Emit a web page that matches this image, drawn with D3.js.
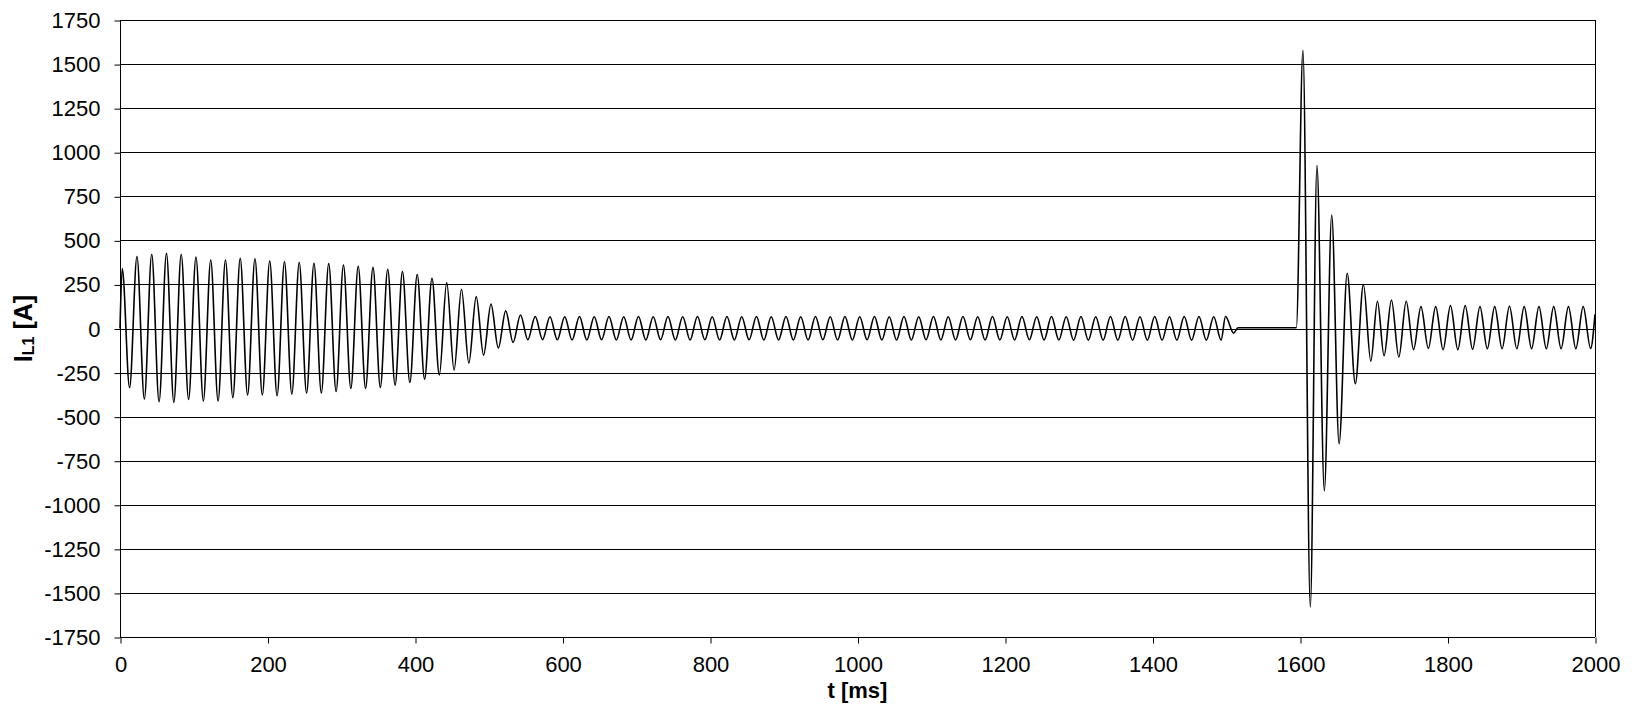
<!DOCTYPE html>
<html>
<head>
<meta charset="utf-8">
<script src="https://cdn.jsdelivr.net/npm/d3@7/dist/d3.min.js"></script>
<style>
  html, body { margin: 0; padding: 0; background: #fff; }
  svg { display: block; }
  text { font-family: "Liberation Sans", Arial, sans-serif; fill: #000; }
</style>
</head>
<body>
<svg id="chart" width="1635" height="720"></svg>
<script>
// ---- data ----
const xTicks = [0, 200, 400, 600, 800, 1000, 1200, 1400, 1600, 1800, 2000];
const yTicks = [-1750, -1500, -1250, -1000, -750, -500, -250, 0, 250, 500, 750, 1000, 1250, 1500, 1750];

// time of each extreme (ms)
const tMs = [
  0,
  3, 13, 23, 33, 43, 53, 63, 73, 83, 93,
  103, 113, 123, 133, 143, 153, 163, 173, 183, 193,
  203, 213, 223, 233, 243, 253, 263, 273, 283, 293,
  303, 313, 323, 333, 343, 353, 363, 373, 383, 393,
  403, 413, 423, 433, 443, 453, 463, 473, 483, 493,
  503, 513, 523, 533, 543, 553, 563, 573, 583, 593,
  603, 613, 623, 633, 643, 653, 663, 673, 683, 693,
  703, 713, 723, 733, 743, 753, 763, 773, 783, 793,
  803, 813, 823, 833, 843, 853, 863, 873, 883, 893,
  903, 913, 923, 933, 943, 953, 963, 973, 983, 993,
  1003, 1013, 1023, 1033, 1043, 1053, 1063, 1073, 1083, 1093,
  1103, 1113, 1123, 1133, 1143, 1153, 1163, 1173, 1183, 1193,
  1203, 1213, 1223, 1233, 1243, 1253, 1263, 1273, 1283, 1293,
  1303, 1313, 1323, 1333, 1343, 1353, 1363, 1373, 1383, 1393,
  1403, 1413, 1423, 1433, 1443, 1453, 1463, 1473, 1483, 1493,
  1499, 1510, 1516, 1595,
  1604, 1614, 1623, 1633, 1643, 1653, 1664, 1675, 1686, 1696,
  1705, 1714, 1724, 1734, 1744, 1754, 1764, 1774, 1784, 1794,
  1804, 1814, 1824, 1834, 1844, 1854, 1864, 1874, 1884, 1894,
  1904, 1914, 1924, 1934, 1944, 1954, 1964, 1974, 1984, 1994,
  2000
];

// current I_L1 at each extreme (A)
const iA = [
  0,
  340, -335, 408, -400, 421, -415, 426, -419, 421, -402,
  406, -411, 389, -411, 389, -392, 398, -377, 396, -377,
  383, -381, 379, -372, 374, -366, 370, -366, 368, -357,
  360, -340, 353, -340, 347, -334, 336, -321, 323, -306,
  306, -287, 285, -264, 260, -236, 223, -196, 181, -151,
  138, -111, 100, -79, 77, -64, 68, -63, 67, -64,
  67, -65, 68, -65, 67, -64, 68, -65, 67, -65,
  68, -65, 67, -64, 68, -65, 67, -65, 68, -64,
  67, -65, 68, -65, 67, -64, 68, -65, 67, -65,
  68, -65, 67, -65, 68, -64, 67, -65, 68, -65,
  67, -64, 68, -65, 67, -65, 68, -65, 67, -64,
  68, -65, 67, -65, 68, -64, 67, -65, 68, -65,
  67, -65, 68, -64, 67, -65, 68, -65, 67, -66,
  68, -66, 67, -66, 68, -66, 68, -66, 67, -66,
  68, -66, 67, -66, 68, -66, 68, -66, 67, -66,
  68, -26, 4, 4,
  1578, -1580, 925, -921, 644, -653, 313, -313, 250, -185,
  155, -155, 162, -162, 155, -120, 124, -113, 124, -120,
  130, -120, 130, -118, 124, -115, 124, -115, 126, -115,
  124, -115, 124, -115, 124, -115, 124, -115, 124, -113,
  80
];

// ---- layout ----
const L = 120, R = 1595, T = 20, B = 637;
const svg = d3.select("#chart");
const x = d3.scaleLinear().domain([0, 2000]).range([L, R]);
const y = d3.scaleLinear().domain([-1750, 1750]).range([B, T]);

// gridlines
svg.append("g")
  .selectAll("line")
  .data(yTicks)
  .join("line")
  .attr("x1", L).attr("x2", R)
  .attr("y1", d => Math.round(y(d)) + 0.5)
  .attr("y2", d => Math.round(y(d)) + 0.5)
  .attr("stroke", "#000").attr("stroke-width", 1);

// right border
svg.append("line")
  .attr("x1", R + 0.5).attr("x2", R + 0.5)
  .attr("y1", T).attr("y2", B)
  .attr("stroke", "#000").attr("stroke-width", 1);

// axes
const fmt = d => String(d);
const yAxis = svg.append("g")
  .attr("transform", `translate(${L + 0.5},0.5)`)
  .call(d3.axisLeft(y).tickValues(yTicks).tickSize(6).tickPadding(14).tickFormat(fmt));
const xAxis = svg.append("g")
  .attr("transform", `translate(0.5,${B + 0.5})`)
  .call(d3.axisBottom(x).tickValues(xTicks).tickSize(6).tickPadding(13).tickFormat(fmt));

[yAxis, xAxis].forEach(g => {
  g.select(".domain").attr("stroke", "#000").attr("stroke-width", 1);
  g.selectAll(".tick line").attr("stroke", "#000");
  g.selectAll(".tick text")
    .attr("font-family", "'Liberation Sans', Arial, sans-serif")
    .attr("font-size", 22)
    .attr("fill", "#000");
});
yAxis.select(".domain").attr("d", `M0,${T - 0.5}V${B - 0.5}`);
xAxis.select(".domain").attr("d", `M${L - 0.5},0H${R - 0.5}`);

// signal
const pts = tMs.map((t, i) => [t, iA[i]]);
const line = d3.line()
  .x(d => x(d[0]))
  .y(d => y(d[1]))
  .curve(d3.curveMonotoneX);

svg.append("path")
  .datum(pts)
  .attr("d", line)
  .attr("fill", "none")
  .attr("stroke", "#000")
  .attr("stroke-width", 1.6)
  .attr("stroke-linejoin", "round");

// axis titles
svg.append("text")
  .attr("x", (L + R) / 2)
  .attr("y", 698)
  .attr("text-anchor", "middle")
  .attr("font-size", 22)
  .attr("font-weight", "bold")
  .text("t [ms]");

const yl = svg.append("text")
  .attr("transform", `translate(32,${(T + B) / 2}) rotate(-90)`)
  .attr("text-anchor", "middle")
  .attr("font-size", 25)
  .attr("font-weight", "bold");
yl.append("tspan").text("I");
yl.append("tspan").attr("font-size", 16).attr("dy", 2).text("L1");
yl.append("tspan").attr("dy", -2).text(" [A]");
</script>
</body>
</html>
